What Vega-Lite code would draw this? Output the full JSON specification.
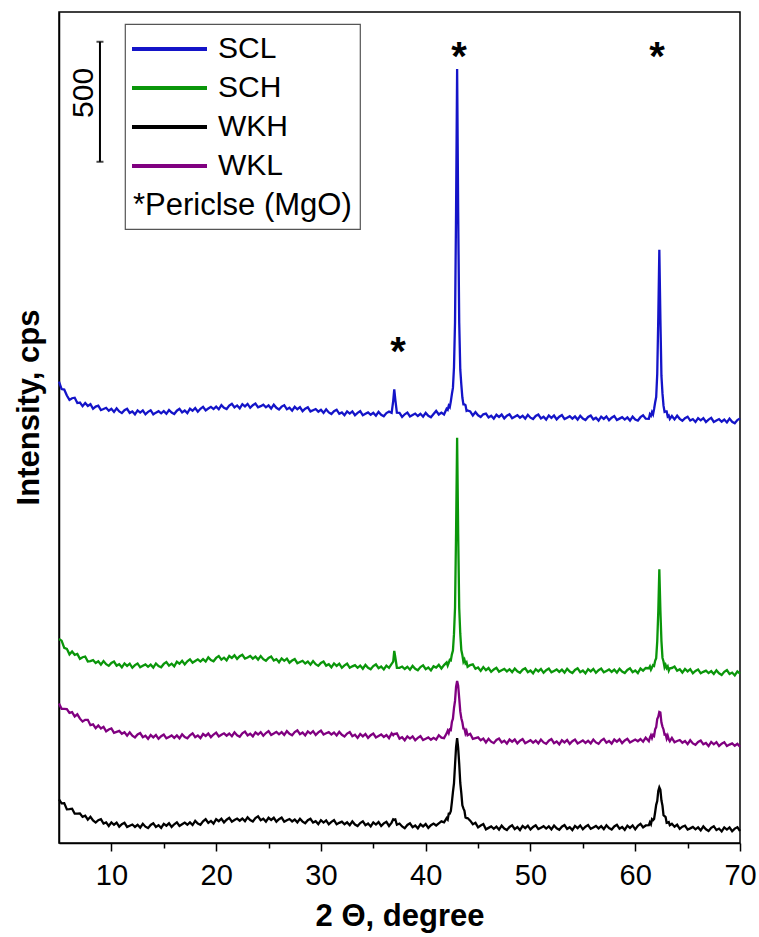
{
"$schema": "https://vega.github.io/schema/vega-lite/v6.json",
"width": 681, "height": 831,
"autosize": {"type": "none"},
"padding": {"left": 59, "top": 12, "right": 19, "bottom": 94},
"background": "white",
"config": {"view": {"stroke": "black", "strokeWidth": 1.5}, "font": "Liberation Sans", "legend": {"strokeWidth": 1.2}},
"encoding": {
 "x": {"field": "x", "type": "quantitative", "scale": {"domain": [5, 70], "nice": false, "zero": false},
  "axis": {"title": "2 Θ, degree", "values": [10,15,20,25,30,35,40,45,50,55,60,65,70],
   "labelExpr": "datum.value % 10 === 0 ? datum.label : ''",
   "tickSize": {"condition": {"test": "datum.value % 10 === 0", "value": 8}, "value": 5},
   "tickColor": "black", "tickWidth": 1.5, "domainColor": "black", "domainWidth": 1.5, "grid": false,
   "labelFontSize": 29, "labelColor": "black", "labelPadding": 10, "labelFont": "Liberation Sans", "labelFlush": false, "labelOverlap": false,
   "titleFont": "Liberation Sans", "titleFontSize": 31, "titleFontWeight": "bold", "titleColor": "black", "titlePadding": 11}},
 "y": {"field": "cps", "type": "quantitative", "scale": {"domain": [0, 3462], "nice": false, "zero": false},
  "axis": {"title": "Intensity, cps", "ticks": false, "labels": false, "grid": false, "domainColor": "black", "domainWidth": 1.5,
   "titleFont": "Liberation Sans", "titleFontSize": 31, "titleFontWeight": "bold", "titleColor": "black", "titlePadding": 14, "titleY": 395}}
},
"layer": [
 {"data": {"values": [
{"x":5,"SCL":1922,"SCH":850,"WKH":182,"WKL":581},
{"x":5.25,"SCL":1891,"SCH":843,"WKH":165,"WKL":559},
{"x":5.5,"SCL":1889,"SCH":813,"WKH":166,"WKL":559},
{"x":5.75,"SCL":1864,"SCH":809,"WKH":140,"WKL":558},
{"x":6,"SCL":1846,"SCH":786,"WKH":141,"WKL":542},
{"x":6.25,"SCL":1853,"SCH":798,"WKH":143,"WKL":545},
{"x":6.5,"SCL":1855,"SCH":784,"WKH":122,"WKL":527},
{"x":6.75,"SCL":1833,"SCH":788,"WKH":122,"WKL":536},
{"x":7,"SCL":1835,"SCH":767,"WKH":123,"WKL":518},
{"x":7.25,"SCL":1820,"SCH":774,"WKH":109,"WKL":506},
{"x":7.5,"SCL":1833,"SCH":777,"WKH":114,"WKL":513},
{"x":7.75,"SCL":1821,"SCH":756,"WKH":97,"WKL":513},
{"x":8,"SCL":1828,"SCH":758,"WKH":109,"WKL":491},
{"x":8.25,"SCL":1809,"SCH":762,"WKH":94,"WKL":494},
{"x":8.5,"SCL":1818,"SCH":750,"WKH":85,"WKL":478},
{"x":8.75,"SCL":1822,"SCH":757,"WKH":95,"WKL":490},
{"x":9,"SCL":1804,"SCH":743,"WKH":99,"WKL":477},
{"x":9.25,"SCL":1808,"SCH":758,"WKH":81,"WKL":484},
{"x":9.5,"SCL":1813,"SCH":745,"WKH":86,"WKL":465},
{"x":9.75,"SCL":1801,"SCH":738,"WKH":71,"WKL":473},
{"x":10,"SCL":1809,"SCH":750,"WKH":86,"WKL":477},
{"x":10.25,"SCL":1796,"SCH":756,"WKH":76,"WKL":459},
{"x":10.5,"SCL":1811,"SCH":739,"WKH":85,"WKL":463},
{"x":10.75,"SCL":1798,"SCH":745,"WKH":68,"WKL":467},
{"x":11,"SCL":1791,"SCH":732,"WKH":78,"WKL":455},
{"x":11.25,"SCL":1803,"SCH":748,"WKH":84,"WKL":461},
{"x":11.5,"SCL":1809,"SCH":738,"WKH":67,"WKL":447},
{"x":11.75,"SCL":1792,"SCH":747,"WKH":72,"WKL":461},
{"x":12,"SCL":1798,"SCH":730,"WKH":77,"WKL":447},
{"x":12.25,"SCL":1786,"SCH":741,"WKH":67,"WKL":440},
{"x":12.5,"SCL":1802,"SCH":748,"WKH":76,"WKL":452},
{"x":12.75,"SCL":1793,"SCH":732,"WKH":64,"WKL":458},
{"x":13,"SCL":1802,"SCH":738,"WKH":80,"WKL":441},
{"x":13.25,"SCL":1786,"SCH":744,"WKH":68,"WKL":447},
{"x":13.5,"SCL":1796,"SCH":734,"WKH":62,"WKL":434},
{"x":13.75,"SCL":1803,"SCH":743,"WKH":75,"WKL":450},
{"x":14,"SCL":1786,"SCH":731,"WKH":82,"WKL":440},
{"x":14.25,"SCL":1793,"SCH":748,"WKH":67,"WKL":450},
{"x":14.5,"SCL":1799,"SCH":737,"WKH":74,"WKL":434},
{"x":14.75,"SCL":1790,"SCH":732,"WKH":63,"WKL":445},
{"x":15,"SCL":1799,"SCH":746,"WKH":80,"WKL":452},
{"x":15.25,"SCL":1788,"SCH":754,"WKH":72,"WKL":436},
{"x":15.5,"SCL":1804,"SCH":739,"WKH":82,"WKL":442},
{"x":15.75,"SCL":1793,"SCH":747,"WKH":67,"WKL":448},
{"x":16,"SCL":1787,"SCH":736,"WKH":78,"WKL":438},
{"x":16.25,"SCL":1801,"SCH":755,"WKH":86,"WKL":448},
{"x":16.5,"SCL":1809,"SCH":747,"WKH":71,"WKL":436},
{"x":16.75,"SCL":1794,"SCH":759,"WKH":78,"WKL":453},
{"x":17,"SCL":1802,"SCH":744,"WKH":85,"WKL":441},
{"x":17.25,"SCL":1791,"SCH":757,"WKH":76,"WKL":436},
{"x":17.5,"SCL":1809,"SCH":765,"WKH":86,"WKL":449},
{"x":17.75,"SCL":1801,"SCH":751,"WKH":75,"WKL":457},
{"x":18,"SCL":1812,"SCH":758,"WKH":92,"WKL":441},
{"x":18.25,"SCL":1797,"SCH":765,"WKH":81,"WKL":448},
{"x":18.5,"SCL":1809,"SCH":756,"WKH":76,"WKL":437},
{"x":18.75,"SCL":1817,"SCH":766,"WKH":90,"WKL":454},
{"x":19,"SCL":1802,"SCH":756,"WKH":99,"WKL":446},
{"x":19.25,"SCL":1810,"SCH":773,"WKH":84,"WKL":456},
{"x":19.5,"SCL":1817,"SCH":762,"WKH":92,"WKL":441},
{"x":19.75,"SCL":1808,"SCH":757,"WKH":81,"WKL":452},
{"x":20,"SCL":1818,"SCH":771,"WKH":99,"WKL":460},
{"x":20.25,"SCL":1807,"SCH":779,"WKH":91,"WKL":444},
{"x":20.5,"SCL":1824,"SCH":764,"WKH":101,"WKL":451},
{"x":20.75,"SCL":1813,"SCH":772,"WKH":86,"WKL":457},
{"x":21,"SCL":1808,"SCH":761,"WKH":97,"WKL":447},
{"x":21.25,"SCL":1822,"SCH":779,"WKH":105,"WKL":456},
{"x":21.5,"SCL":1830,"SCH":771,"WKH":89,"WKL":445},
{"x":21.75,"SCL":1815,"SCH":782,"WKH":96,"WKL":461},
{"x":22,"SCL":1823,"SCH":767,"WKH":102,"WKL":449},
{"x":22.25,"SCL":1811,"SCH":778,"WKH":93,"WKL":443},
{"x":22.5,"SCL":1828,"SCH":784,"WKH":102,"WKL":457},
{"x":22.75,"SCL":1819,"SCH":768,"WKH":91,"WKL":464},
{"x":23,"SCL":1829,"SCH":773,"WKH":107,"WKL":448},
{"x":23.25,"SCL":1813,"SCH":779,"WKH":96,"WKL":455},
{"x":23.5,"SCL":1824,"SCH":768,"WKH":90,"WKL":444},
{"x":23.75,"SCL":1831,"SCH":777,"WKH":104,"WKL":461},
{"x":24,"SCL":1815,"SCH":764,"WKH":111,"WKL":452},
{"x":24.25,"SCL":1820,"SCH":779,"WKH":95,"WKL":462},
{"x":24.5,"SCL":1826,"SCH":766,"WKH":101,"WKL":447},
{"x":24.75,"SCL":1815,"SCH":759,"WKH":89,"WKL":458},
{"x":25,"SCL":1823,"SCH":771,"WKH":105,"WKL":466},
{"x":25.25,"SCL":1810,"SCH":777,"WKH":96,"WKL":450},
{"x":25.5,"SCL":1826,"SCH":760,"WKH":105,"WKL":456},
{"x":25.75,"SCL":1813,"SCH":766,"WKH":89,"WKL":463},
{"x":26,"SCL":1806,"SCH":753,"WKH":99,"WKL":453},
{"x":26.25,"SCL":1818,"SCH":769,"WKH":106,"WKL":462},
{"x":26.5,"SCL":1824,"SCH":759,"WKH":89,"WKL":450},
{"x":26.75,"SCL":1807,"SCH":768,"WKH":95,"WKL":466},
{"x":27,"SCL":1813,"SCH":751,"WKH":100,"WKL":455},
{"x":27.25,"SCL":1801,"SCH":760,"WKH":90,"WKL":449},
{"x":27.5,"SCL":1817,"SCH":766,"WKH":98,"WKL":462},
{"x":27.75,"SCL":1807,"SCH":749,"WKH":86,"WKL":469},
{"x":28,"SCL":1816,"SCH":754,"WKH":101,"WKL":453},
{"x":28.25,"SCL":1799,"SCH":759,"WKH":89,"WKL":460},
{"x":28.5,"SCL":1809,"SCH":748,"WKH":82,"WKL":448},
{"x":28.75,"SCL":1815,"SCH":756,"WKH":95,"WKL":465},
{"x":29,"SCL":1798,"SCH":743,"WKH":101,"WKL":456},
{"x":29.25,"SCL":1803,"SCH":758,"WKH":85,"WKL":466},
{"x":29.5,"SCL":1808,"SCH":745,"WKH":91,"WKL":450},
{"x":29.75,"SCL":1797,"SCH":738,"WKH":79,"WKL":461},
{"x":30,"SCL":1805,"SCH":750,"WKH":95,"WKL":468},
{"x":30.25,"SCL":1792,"SCH":756,"WKH":85,"WKL":452},
{"x":30.5,"SCL":1807,"SCH":739,"WKH":94,"WKL":457},
{"x":30.75,"SCL":1794,"SCH":745,"WKH":78,"WKL":462},
{"x":31,"SCL":1787,"SCH":732,"WKH":88,"WKL":452},
{"x":31.25,"SCL":1799,"SCH":748,"WKH":95,"WKL":460},
{"x":31.5,"SCL":1805,"SCH":738,"WKH":78,"WKL":448},
{"x":31.75,"SCL":1788,"SCH":747,"WKH":84,"WKL":463},
{"x":32,"SCL":1794,"SCH":730,"WKH":89,"WKL":451},
{"x":32.25,"SCL":1782,"SCH":740,"WKH":78,"WKL":444},
{"x":32.5,"SCL":1798,"SCH":747,"WKH":86,"WKL":456},
{"x":32.75,"SCL":1789,"SCH":730,"WKH":74,"WKL":462},
{"x":33,"SCL":1798,"SCH":736,"WKH":90,"WKL":445},
{"x":33.25,"SCL":1782,"SCH":741,"WKH":77,"WKL":451},
{"x":33.5,"SCL":1792,"SCH":730,"WKH":71,"WKL":438},
{"x":33.75,"SCL":1799,"SCH":739,"WKH":83,"WKL":454},
{"x":34,"SCL":1782,"SCH":726,"WKH":90,"WKL":444},
{"x":34.25,"SCL":1788,"SCH":742,"WKH":74,"WKL":454},
{"x":34.5,"SCL":1794,"SCH":730,"WKH":81,"WKL":438},
{"x":34.75,"SCL":1784,"SCH":724,"WKH":69,"WKL":449},
{"x":35,"SCL":1792,"SCH":737,"WKH":86,"WKL":456},
{"x":35.25,"SCL":1780,"SCH":744,"WKH":77,"WKL":440},
{"x":35.5,"SCL":1796,"SCH":728,"WKH":87,"WKL":446},
{"x":35.75,"SCL":1784,"SCH":735,"WKH":71,"WKL":452},
{"x":36,"SCL":1778,"SCH":723,"WKH":82,"WKL":442},
{"x":36.25,"SCL":1791,"SCH":739,"WKH":88,"WKL":450},
{"x":36.5,"SCL":1797,"SCH":730,"WKH":71,"WKL":437},
{"x":36.75,"SCL":1792,"SCH":746,"WKH":85,"WKL":457},
{"x":36.9,"SCL":1842,"SCH":756,"WKH":99,"WKL":449},
{"x":37,"SCL":1890,"SCH":800,"WKH":97,"WKL":455},
{"x":37.1,"SCL":1847,"SCH":774,"WKH":98,"WKL":455},
{"x":37.25,"SCL":1793,"SCH":730,"WKH":76,"WKL":457},
{"x":37.5,"SCL":1792,"SCH":730,"WKH":81,"WKL":435},
{"x":37.75,"SCL":1775,"SCH":735,"WKH":69,"WKL":441},
{"x":38,"SCL":1786,"SCH":725,"WKH":62,"WKL":428},
{"x":38.25,"SCL":1793,"SCH":734,"WKH":75,"WKL":444},
{"x":38.5,"SCL":1777,"SCH":722,"WKH":82,"WKL":435},
{"x":38.75,"SCL":1783,"SCH":738,"WKH":66,"WKL":444},
{"x":39,"SCL":1789,"SCH":726,"WKH":73,"WKL":428},
{"x":39.25,"SCL":1779,"SCH":720,"WKH":61,"WKL":438},
{"x":39.5,"SCL":1788,"SCH":733,"WKH":78,"WKL":445},
{"x":39.75,"SCL":1776,"SCH":740,"WKH":69,"WKL":429},
{"x":40,"SCL":1792,"SCH":724,"WKH":79,"WKL":434},
{"x":40.25,"SCL":1780,"SCH":731,"WKH":63,"WKL":440},
{"x":40.5,"SCL":1774,"SCH":719,"WKH":74,"WKL":430},
{"x":40.75,"SCL":1787,"SCH":736,"WKH":81,"WKL":438},
{"x":41,"SCL":1800,"SCH":731,"WKH":73,"WKL":431},
{"x":41.25,"SCL":1785,"SCH":742,"WKH":82,"WKL":449},
{"x":41.5,"SCL":1793,"SCH":727,"WKH":90,"WKL":439},
{"x":41.75,"SCL":1785,"SCH":741,"WKH":86,"WKL":437},
{"x":42,"SCL":1809,"SCH":752,"WKH":104,"WKL":457},
{"x":42.1,"SCL":1805,"SCH":739,"WKH":98,"WKL":468},
{"x":42.2,"SCL":1822,"SCH":750,"WKH":122,"WKL":458},
{"x":42.3,"SCL":1816,"SCH":763,"WKH":122,"WKL":473},
{"x":42.4,"SCL":1840,"SCH":761,"WKH":133,"WKL":471},
{"x":42.5,"SCL":1870,"SCH":786,"WKH":170,"WKL":504},
{"x":42.6,"SCL":1896,"SCH":802,"WKH":212,"WKL":518},
{"x":42.7,"SCL":1981,"SCH":870,"WKH":248,"WKL":562},
{"x":42.8,"SCL":2170,"SCH":980,"WKH":325,"WKL":592},
{"x":42.9,"SCL":2633,"SCH":1295,"WKH":400,"WKL":651},
{"x":43,"SCL":3225,"SCH":1688,"WKH":437,"WKL":675},
{"x":43.1,"SCL":2630,"SCH":1290,"WKH":396,"WKL":655},
{"x":43.2,"SCL":2168,"SCH":979,"WKH":329,"WKL":603},
{"x":43.3,"SCL":1973,"SCH":872,"WKH":250,"WKL":548},
{"x":43.4,"SCL":1910,"SCH":804,"WKH":208,"WKL":520},
{"x":43.5,"SCL":1856,"SCH":783,"WKH":157,"WKL":503},
{"x":43.6,"SCL":1827,"SCH":755,"WKH":144,"WKL":477},
{"x":43.7,"SCL":1827,"SCH":764,"WKH":134,"WKL":476},
{"x":43.8,"SCL":1824,"SCH":748,"WKH":106,"WKL":456},
{"x":43.9,"SCL":1800,"SCH":753,"WKH":104,"WKL":466},
{"x":44,"SCL":1802,"SCH":734,"WKH":104,"WKL":449},
{"x":44.25,"SCL":1798,"SCH":741,"WKH":93,"WKL":455},
{"x":44.5,"SCL":1781,"SCH":744,"WKH":78,"WKL":434},
{"x":44.75,"SCL":1795,"SCH":726,"WKH":84,"WKL":437},
{"x":45,"SCL":1782,"SCH":731,"WKH":65,"WKL":440},
{"x":45.25,"SCL":1775,"SCH":717,"WKH":73,"WKL":428},
{"x":45.5,"SCL":1786,"SCH":733,"WKH":79,"WKL":435},
{"x":45.75,"SCL":1789,"SCH":720,"WKH":57,"WKL":419},
{"x":46,"SCL":1773,"SCH":729,"WKH":63,"WKL":434},
{"x":46.25,"SCL":1780,"SCH":713,"WKH":69,"WKL":422},
{"x":46.5,"SCL":1768,"SCH":723,"WKH":59,"WKL":416},
{"x":46.75,"SCL":1784,"SCH":730,"WKH":68,"WKL":429},
{"x":47,"SCL":1775,"SCH":714,"WKH":56,"WKL":435},
{"x":47.25,"SCL":1785,"SCH":720,"WKH":72,"WKL":419},
{"x":47.5,"SCL":1769,"SCH":725,"WKH":60,"WKL":426},
{"x":47.75,"SCL":1780,"SCH":715,"WKH":54,"WKL":414},
{"x":48,"SCL":1786,"SCH":724,"WKH":67,"WKL":431},
{"x":48.25,"SCL":1770,"SCH":712,"WKH":74,"WKL":422},
{"x":48.5,"SCL":1776,"SCH":727,"WKH":58,"WKL":431},
{"x":48.75,"SCL":1782,"SCH":715,"WKH":66,"WKL":415},
{"x":49,"SCL":1772,"SCH":709,"WKH":54,"WKL":426},
{"x":49.25,"SCL":1780,"SCH":722,"WKH":71,"WKL":433},
{"x":49.5,"SCL":1768,"SCH":728,"WKH":62,"WKL":416},
{"x":49.75,"SCL":1784,"SCH":712,"WKH":72,"WKL":422},
{"x":50,"SCL":1772,"SCH":719,"WKH":56,"WKL":428},
{"x":50.25,"SCL":1766,"SCH":707,"WKH":67,"WKL":418},
{"x":50.5,"SCL":1779,"SCH":724,"WKH":74,"WKL":427},
{"x":50.75,"SCL":1785,"SCH":715,"WKH":58,"WKL":415},
{"x":51,"SCL":1769,"SCH":725,"WKH":64,"WKL":431},
{"x":51.25,"SCL":1776,"SCH":709,"WKH":70,"WKL":419},
{"x":51.5,"SCL":1764,"SCH":720,"WKH":60,"WKL":413},
{"x":51.75,"SCL":1781,"SCH":727,"WKH":69,"WKL":426},
{"x":52,"SCL":1771,"SCH":711,"WKH":57,"WKL":433},
{"x":52.25,"SCL":1781,"SCH":717,"WKH":73,"WKL":416},
{"x":52.5,"SCL":1765,"SCH":723,"WKH":61,"WKL":423},
{"x":52.75,"SCL":1776,"SCH":713,"WKH":55,"WKL":411},
{"x":53,"SCL":1783,"SCH":722,"WKH":68,"WKL":428},
{"x":53.25,"SCL":1766,"SCH":710,"WKH":75,"WKL":419},
{"x":53.5,"SCL":1772,"SCH":726,"WKH":59,"WKL":429},
{"x":53.75,"SCL":1778,"SCH":714,"WKH":66,"WKL":413},
{"x":54,"SCL":1768,"SCH":708,"WKH":54,"WKL":424},
{"x":54.25,"SCL":1777,"SCH":721,"WKH":71,"WKL":431},
{"x":54.5,"SCL":1764,"SCH":728,"WKH":62,"WKL":415},
{"x":54.75,"SCL":1780,"SCH":712,"WKH":73,"WKL":421},
{"x":55,"SCL":1768,"SCH":719,"WKH":57,"WKL":427},
{"x":55.25,"SCL":1762,"SCH":707,"WKH":68,"WKL":417},
{"x":55.5,"SCL":1775,"SCH":724,"WKH":75,"WKL":426},
{"x":55.75,"SCL":1781,"SCH":715,"WKH":59,"WKL":415},
{"x":56,"SCL":1765,"SCH":725,"WKH":65,"WKL":431},
{"x":56.25,"SCL":1772,"SCH":709,"WKH":71,"WKL":419},
{"x":56.5,"SCL":1760,"SCH":720,"WKH":61,"WKL":413},
{"x":56.75,"SCL":1776,"SCH":727,"WKH":70,"WKL":427},
{"x":57,"SCL":1767,"SCH":711,"WKH":58,"WKL":434},
{"x":57.25,"SCL":1777,"SCH":717,"WKH":74,"WKL":418},
{"x":57.5,"SCL":1761,"SCH":723,"WKH":62,"WKL":425},
{"x":57.75,"SCL":1772,"SCH":713,"WKH":56,"WKL":414},
{"x":58,"SCL":1779,"SCH":722,"WKH":69,"WKL":431},
{"x":58.25,"SCL":1762,"SCH":710,"WKH":76,"WKL":422},
{"x":58.5,"SCL":1768,"SCH":726,"WKH":60,"WKL":432},
{"x":58.75,"SCL":1774,"SCH":714,"WKH":67,"WKL":416},
{"x":59,"SCL":1764,"SCH":708,"WKH":55,"WKL":427},
{"x":59.25,"SCL":1773,"SCH":721,"WKH":72,"WKL":434},
{"x":59.5,"SCL":1760,"SCH":728,"WKH":63,"WKL":419},
{"x":59.75,"SCL":1776,"SCH":712,"WKH":73,"WKL":425},
{"x":60,"SCL":1764,"SCH":719,"WKH":57,"WKL":431},
{"x":60.25,"SCL":1760,"SCH":708,"WKH":72,"WKL":424},
{"x":60.5,"SCL":1774,"SCH":727,"WKH":80,"WKL":433},
{"x":60.75,"SCL":1782,"SCH":718,"WKH":65,"WKL":422},
{"x":61,"SCL":1768,"SCH":729,"WKH":73,"WKL":439},
{"x":61.3,"SCL":1767,"SCH":728,"WKH":74,"WKL":424},
{"x":61.4,"SCL":1786,"SCH":736,"WKH":86,"WKL":439},
{"x":61.5,"SCL":1780,"SCH":722,"WKH":78,"WKL":449},
{"x":61.6,"SCL":1795,"SCH":731,"WKH":99,"WKL":437},
{"x":61.7,"SCL":1786,"SCH":741,"WKH":95,"WKL":450},
{"x":61.8,"SCL":1808,"SCH":738,"WKH":100,"WKL":446},
{"x":61.9,"SCL":1835,"SCH":759,"WKH":128,"WKL":474},
{"x":62,"SCL":1858,"SCH":770,"WKH":159,"WKL":483},
{"x":62.1,"SCL":1954,"SCH":840,"WKH":175,"WKL":516},
{"x":62.2,"SCL":2188,"SCH":964,"WKH":217,"WKL":526},
{"x":62.3,"SCL":2471,"SCH":1140,"WKH":232,"WKL":546},
{"x":62.4,"SCL":2187,"SCH":971,"WKH":222,"WKL":544},
{"x":62.5,"SCL":1947,"SCH":842,"WKH":178,"WKL":502},
{"x":62.6,"SCL":1873,"SCH":772,"WKH":156,"WKL":485},
{"x":62.7,"SCL":1822,"SCH":756,"WKH":116,"WKL":473},
{"x":62.8,"SCL":1796,"SCH":732,"WKH":112,"WKL":452},
{"x":62.9,"SCL":1798,"SCH":742,"WKH":108,"WKL":453},
{"x":63,"SCL":1798,"SCH":729,"WKH":84,"WKL":435},
{"x":63.1,"SCL":1777,"SCH":736,"WKH":85,"WKL":447},
{"x":63.2,"SCL":1781,"SCH":718,"WKH":87,"WKL":432},
{"x":63.3,"SCL":1767,"SCH":728,"WKH":74,"WKL":424},
{"x":63.5,"SCL":1779,"SCH":729,"WKH":80,"WKL":438},
{"x":63.75,"SCL":1765,"SCH":735,"WKH":68,"WKL":420},
{"x":64,"SCL":1780,"SCH":718,"WKH":76,"WKL":425},
{"x":64.25,"SCL":1767,"SCH":724,"WKH":59,"WKL":429},
{"x":64.5,"SCL":1759,"SCH":710,"WKH":68,"WKL":418},
{"x":64.75,"SCL":1770,"SCH":725,"WKH":72,"WKL":425},
{"x":65,"SCL":1776,"SCH":715,"WKH":56,"WKL":412},
{"x":65.25,"SCL":1760,"SCH":724,"WKH":61,"WKL":428},
{"x":65.5,"SCL":1766,"SCH":707,"WKH":67,"WKL":415},
{"x":65.75,"SCL":1754,"SCH":717,"WKH":57,"WKL":409},
{"x":66,"SCL":1770,"SCH":723,"WKH":65,"WKL":421},
{"x":66.25,"SCL":1761,"SCH":707,"WKH":53,"WKL":427},
{"x":66.5,"SCL":1770,"SCH":713,"WKH":69,"WKL":411},
{"x":66.75,"SCL":1754,"SCH":718,"WKH":57,"WKL":417},
{"x":67,"SCL":1764,"SCH":708,"WKH":50,"WKL":404},
{"x":67.25,"SCL":1771,"SCH":716,"WKH":63,"WKL":421},
{"x":67.5,"SCL":1754,"SCH":704,"WKH":70,"WKL":411},
{"x":67.75,"SCL":1760,"SCH":719,"WKH":54,"WKL":420},
{"x":68,"SCL":1766,"SCH":707,"WKH":60,"WKL":404},
{"x":68.25,"SCL":1755,"SCH":700,"WKH":48,"WKL":414},
{"x":68.5,"SCL":1764,"SCH":713,"WKH":65,"WKL":420},
{"x":68.75,"SCL":1752,"SCH":720,"WKH":56,"WKL":404},
{"x":69,"SCL":1768,"SCH":704,"WKH":65,"WKL":410},
{"x":69.25,"SCL":1755,"SCH":710,"WKH":49,"WKL":415},
{"x":69.5,"SCL":1749,"SCH":698,"WKH":60,"WKL":405},
{"x":69.75,"SCL":1762,"SCH":715,"WKH":66,"WKL":413},
{"x":70,"SCL":1769,"SCH":706,"WKH":50,"WKL":401}
 ]},
 "transform": [{"fold": ["SCL", "SCH", "WKH", "WKL"], "as": ["sample", "cps"]}],
 "mark": {"type": "line", "strokeWidth": 2.3},
 "encoding": {
  "color": {"field": "sample", "type": "nominal",
   "scale": {"domain": ["SCL", "SCH", "WKH", "WKL"], "range": ["#1414c8", "#0a960a", "#000000", "#800080"]},
   "legend": {"orient": "none", "legendX": 66, "legendY": 12, "title": "*Periclse (MgO)", "titleOrient": "bottom", "titleAnchor": "start",
    "titleFont": "Liberation Sans", "titleFontSize": 31, "titleFontWeight": "normal", "titleColor": "black", "titlePadding": 10, "titleLimit": 400,
    "labelFont": "Liberation Sans", "labelFontSize": 30, "labelColor": "black", "labelOffset": 51, "labelLimit": 300,
    "symbolType": "M-1.2,0H3.8", "symbolSize": 900, "symbolStrokeWidth": 4, "rowPadding": 7, "padding": 8,
    "strokeColor": "#555555", "fillColor": "white", "cornerRadius": 0}}
 }},
 {"data": {"values": [{"x": 8.91, "cps": 2838, "cps2": 3338}]},
  "mark": {"type": "rule", "strokeWidth": 2, "color": "black"},
  "encoding": {"y2": {"field": "cps2"}}},
 {"data": {"values": [{"x": 8.91, "cps": 2838}, {"x": 8.91, "cps": 3338}]},
  "mark": {"type": "tick", "orient": "horizontal", "size": 7, "thickness": 2, "color": "black"},
  "encoding": {}},
 {"data": {"values": [{"x": 7.43, "cps": 3125, "label": "500"}]},
  "mark": {"type": "text", "angle": 270, "fontSize": 30, "font": "Liberation Sans", "align": "center", "baseline": "middle", "color": "black"},
  "encoding": {"text": {"field": "label"}}},
 {"data": {"values": [{"x": 37.36, "cps": 1992, "label": "*"}, {"x": 43.18, "cps": 3221, "label": "*"}, {"x": 62.08, "cps": 3221, "label": "*"}]},
  "mark": {"type": "text", "fontSize": 40, "fontWeight": "bold", "font": "Liberation Sans", "align": "center", "baseline": "alphabetic", "color": "black"},
  "encoding": {"text": {"field": "label"}}}
]
}
